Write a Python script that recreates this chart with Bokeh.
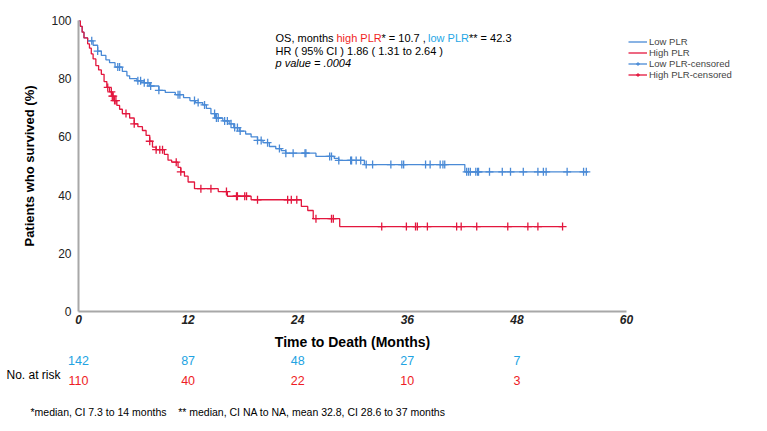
import numpy as np
from bokeh.plotting import figure
from bokeh.models import (Range1d, Label, Legend, LegendItem, FixedTicker,
                          LinearAxis, Title)
from bokeh.embed import file_html
from bokeh.resources import INLINE

# ---------------- data ----------------
low_times = [0, 0.2, 0.4, 0.6, 1.0, 1.6, 2.1, 2.5, 3.0, 3.4, 4.0, 4.8, 5.3, 5.6,
             6.4, 7.2, 7.8, 8.8, 9.5, 10.6, 11.5, 12.2, 12.8, 13.6, 14.0, 14.5,
             15.0, 15.8, 16.5, 17.0, 17.6, 18.3, 18.9, 19.6, 20.2, 20.9, 21.6,
             22.2, 22.7, 26.0, 28.0, 28.5, 31.3, 42.3]
low_surv = [100, 98, 96, 94, 93, 91.5, 89.5, 88, 86.5, 85.5, 84, 82.5, 81, 80,
            79.3, 78.6, 77.5, 76, 75.3, 74.5, 73.5, 72.5, 71.8, 71, 69.8, 68,
            66.5, 65.5, 64.5, 63.2, 62, 61, 60, 58.8, 58, 56.7, 56,
            55.3, 54.4, 53.3, 52.6, 51.9, 50.5, 48]
low_end = 55.8
low_censored = [1.45, 2.1, 4.3, 4.5, 6.5, 6.8, 7.2, 7.6, 7.9, 8.8, 10.9, 11.1,
                12.7, 13.1, 13.8, 14.9, 15.1, 15.3, 16.0, 16.3, 16.7, 17.1, 17.4,
                17.7, 19.6, 20.0, 20.7, 22.0, 22.7, 23.5, 24.8, 24.9, 27.5, 27.7,
                28.5, 29.8, 29.9, 30.4, 30.9, 31.5, 32.2, 34.2, 35.4, 35.6, 38.0,
                38.5, 39.6, 39.9, 40.1, 42.5, 42.7, 42.9, 43.5, 43.7, 43.8, 45.0,
                46.4, 47.3, 48.7, 50.3, 50.9, 51.2, 53.5, 55.3, 55.6]

high_times = [0, 0.2, 0.4, 0.6, 1.0, 1.2, 1.4, 1.6, 1.9, 2.2, 2.5, 2.8, 3.1,
              3.4, 3.7, 3.9, 4.2, 4.5, 4.8, 5.6, 6.1, 6.5, 7.0, 7.4, 7.8, 8.1,
              8.5, 9.4, 9.8, 10.2, 10.9, 11.2, 11.6, 12.0, 12.7, 15.3, 16.3,
              18.9, 24.4, 25.1, 25.7, 28.6]
high_surv = [100, 98, 96, 94, 92, 90.5, 88.5, 86.8, 84.5, 83, 81.5, 79, 77,
             75.5, 74, 72.5, 70.8, 69.5, 68, 66.5, 64.5, 63.5, 62.2, 60.5, 58.5,
             56.5, 55.6, 54, 52, 51.3, 49.5, 48, 46.5, 44.5, 42.2, 41.2, 39.6,
             38.4, 36.1, 34.7, 31.9, 29.2]
high_end = 53.0
high_censored = [3.2, 3.6, 3.7, 3.8, 3.95, 4.1, 5.2, 6.1, 7.8, 8.5, 8.9, 9.2,
                 10.7, 11.2, 13.4, 14.5, 16.2, 17.3, 17.4, 18.2, 18.4, 19.6,
                 22.9, 23.3, 23.9, 26.0, 27.7, 27.9, 33.2, 35.9, 36.9, 37.1,
                 38.2, 41.4, 41.9, 43.6, 47.0, 49.2, 50.3, 53.0]

x_ticks = [0, 12, 24, 36, 48, 60]
y_ticks = [0, 20, 40, 60, 80, 100]
risk_times = [0, 12, 24, 36, 48]
risk_low = [142, 87, 48, 27, 7]
risk_high = [110, 40, 22, 10, 3]

# ---------------- style ----------------
BLUE = "#4A8AD6"
RED = "#E3173E"
RISK_BLUE = "#22A3E2"
RISK_RED = "#EE1C25"
FONT = "Liberation Sans"
NBSP = "\u00a0"

W = 767
FRAME_L, FRAME_W = 78, 548
FRAME_T, FRAME_H = 20, 291
X_SCALE = FRAME_W / 60.0
Y_SCALE = FRAME_H / 100.0


def tx(px):
    """page pixel x -> months"""
    return (px - FRAME_L) / X_SCALE


def ty(py):
    """page pixel y -> percent"""
    return (FRAME_T + FRAME_H - py) / Y_SCALE


def km_xy(times, surv, end):
    return list(times) + [end], list(surv) + [surv[-1]]


def censor_levels(times, surv, cens):
    idx = np.searchsorted(np.array(times), np.array(cens), side="right") - 1
    return [surv[i] for i in idx]


p = figure(frame_width=FRAME_W, frame_height=FRAME_H,
           x_range=Range1d(0, 60), y_range=Range1d(0, 100),
           output_backend="svg", toolbar_location=None,
           min_border_left=FRAME_L, min_border_right=W - FRAME_L - FRAME_W,
           min_border_top=FRAME_T, min_border_bottom=0)
p.outline_line_color = None
p.grid.visible = False

lx, ly = km_xy(low_times, low_surv, low_end)
hx, hy = km_xy(high_times, high_surv, high_end)
r_low = p.step(lx, ly, mode="after", line_color=BLUE, line_width=1.3)
r_high = p.step(hx, hy, mode="after", line_color=RED, line_width=1.3)
r_low_c = p.scatter(low_censored, censor_levels(low_times, low_surv, low_censored),
                    marker="cross", size=8, line_color=BLUE, line_width=1.3)
r_high_c = p.scatter(high_censored, censor_levels(high_times, high_surv, high_censored),
                     marker="cross", size=8, line_color=RED, line_width=1.3)
# single-point lines (draw nothing in the plot) give the censored legend
# entries a horizontal stroke
leg_low_c = p.line([0], [100], line_color=BLUE, line_width=1.3)
leg_high_c = p.line([0], [100], line_color=RED, line_width=1.3)

# axes
for ax in (p.xaxis[0], p.yaxis[0]):
    ax.axis_line_color = "#A8A8A8"
    ax.axis_line_width = 2
    ax.major_tick_line_color = None
    ax.minor_tick_line_color = None
    ax.major_tick_in = 0
    ax.major_tick_out = 0
    ax.major_label_text_font = FONT
    ax.major_label_text_font_size = "12px"
    ax.major_label_text_color = "#222222"
    ax.axis_label_text_font = FONT
    ax.axis_label_text_font_style = "bold"
    ax.axis_label_text_color = "#000000"
p.xaxis.ticker = FixedTicker(ticks=x_ticks)
p.yaxis.ticker = FixedTicker(ticks=y_ticks)
p.xaxis.major_label_text_font_style = "bold italic"
p.xaxis.major_label_standoff = 3
p.yaxis.major_label_standoff = 7
p.xaxis.axis_label = "Time to Death (Months)"
p.xaxis.axis_label_text_font_size = "14px"
p.xaxis.axis_label_standoff = 7
p.yaxis.axis_label = "Patients who survived (%)"
p.yaxis.axis_label_text_font_size = "13px"
p.yaxis.axis_label_standoff = 11


# number-at-risk rows: extra axes on the same month scale
def risk_axis(counts, color, standoff):
    return LinearAxis(ticker=FixedTicker(ticks=risk_times),
                      major_label_overrides={t: str(c) for t, c in zip(risk_times, counts)},
                      axis_line_color=None, major_tick_line_color=None,
                      minor_tick_line_color=None, major_tick_in=0, major_tick_out=0,
                      major_label_standoff=standoff, major_label_text_color=color,
                      major_label_text_font=FONT, major_label_text_font_size="12.5px")


p.add_layout(risk_axis(risk_low, RISK_BLUE, 3), "below")
p.add_layout(Title(text="No. at risk", align="left", offset=6 - FRAME_L, standoff=0,
                   vertical_align="top", text_font=FONT, text_font_size="12px",
                   text_font_style="normal", text_color="#000000"), "below")
p.add_layout(risk_axis(risk_high, RISK_RED, -8), "below")
p.add_layout(Title(text="*median, CI 7.3 to 14 months" + NBSP * 4 +
                   "** median, CI NA to NA, mean 32.8, CI 28.6 to 37 months",
                   align="left", offset=30 - FRAME_L, standoff=32,
                   vertical_align="bottom", text_font=FONT, text_font_size="10.5px",
                   text_font_style="normal", text_color="#000000"), "below")

# legend (in the right-hand panel so it is not clipped by the frame)
legend = Legend(items=[LegendItem(label="Low PLR", renderers=[r_low]),
                       LegendItem(label="High PLR", renderers=[r_high]),
                       LegendItem(label="Low PLR-censored", renderers=[leg_low_c, r_low_c]),
                       LegendItem(label="High PLR-censored", renderers=[leg_high_c, r_high_c])],
                location=(2, 231), padding=0, spacing=0, margin=0,
                glyph_width=19, glyph_height=9, label_height=9, label_standoff=2,
                label_text_font=FONT, label_text_font_size="9.5px",
                background_fill_alpha=0, border_line_alpha=0)
p.add_layout(legend, "right")


# annotation text inside the frame
def add_text(px, py, text, color="#000000", style="normal", size="11px"):
    p.add_layout(Label(x=tx(px), y=ty(py), text=text, text_color=color,
                       text_font=FONT, text_font_size=size, text_font_style=style,
                       text_align="left", text_baseline="middle"))


add_text(275, 37.5, "OS, months ")
add_text(336, 37.5, "high PLR", color="#F01E1E")
add_text(381, 37.5, "* = 10.7 , ")
add_text(427.5, 37.5, "low PLR", color="#1FA7E6")
add_text(468.5, 37.5, "** = 42.3")
add_text(275, 50, "HR ( 95% CI ) 1.86 ( 1.31 to 2.64 )")
add_text(275, 62, "p value =  .0004", style="italic")

open("out.html", "w").write(file_html(p, INLINE))
